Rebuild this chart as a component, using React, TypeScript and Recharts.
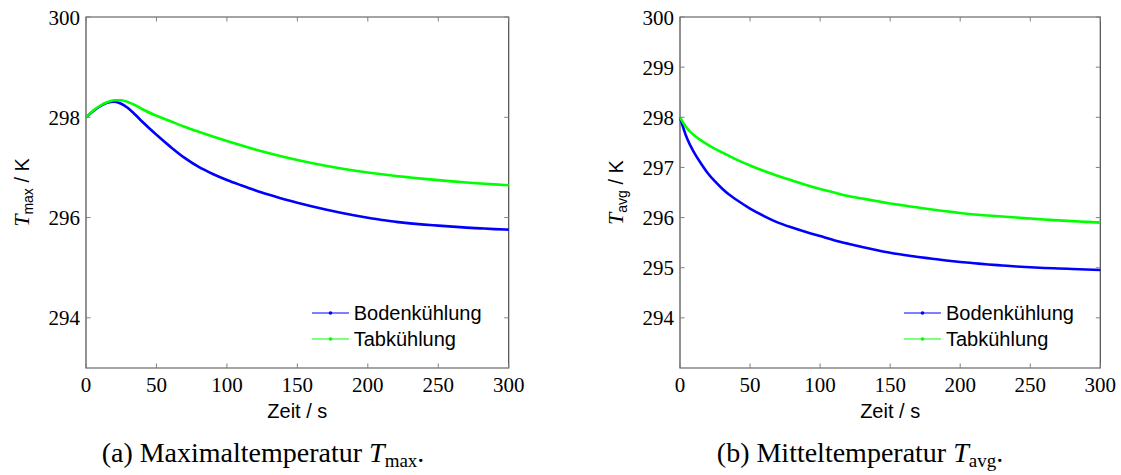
import React from 'react';
import { LineChart, Line, XAxis, YAxis, Legend, ReferenceArea } from 'recharts';

// simulation time in seconds
const TIME = [0, 5, 10, 15, 20, 25, 30, 35, 40, 50, 60, 70, 80, 90, 100, 110, 120, 130, 140, 150, 160, 170, 180, 190, 200, 210, 220, 230, 240, 250, 260, 270, 280, 290, 300];

// maximum temperature in K
const TMAX_BODEN = [298.0, 298.12, 298.22, 298.29, 298.31, 298.27, 298.18, 298.05, 297.91, 297.65, 297.41, 297.19, 297.01, 296.87, 296.75, 296.645, 296.545, 296.455, 296.37, 296.295, 296.225, 296.16, 296.1, 296.045, 295.995, 295.95, 295.915, 295.885, 295.86, 295.84, 295.82, 295.8, 295.785, 295.77, 295.76];
const TMAX_TAB = [298.0, 298.13, 298.23, 298.3, 298.34, 298.34, 298.3, 298.24, 298.16, 298.03, 297.92, 297.81, 297.71, 297.615, 297.525, 297.44, 297.36, 297.285, 297.215, 297.15, 297.09, 297.035, 296.985, 296.94, 296.9, 296.863, 296.83, 296.8, 296.772, 296.746, 296.722, 296.7, 296.68, 296.662, 296.646];

// mean temperature in K
const TAVG_BODEN = [298.0, 297.58, 297.3, 297.08, 296.88, 296.72, 296.58, 296.46, 296.36, 296.18, 296.03, 295.9, 295.8, 295.71, 295.63, 295.55, 295.48, 295.415, 295.355, 295.3, 295.255, 295.215, 295.18, 295.145, 295.115, 295.09, 295.065, 295.045, 295.025, 295.01, 294.995, 294.985, 294.975, 294.965, 294.955];
const TAVG_TAB = [298.0, 297.78, 297.64, 297.54, 297.45, 297.37, 297.3, 297.23, 297.16, 297.04, 296.93, 296.83, 296.74, 296.65, 296.57, 296.5, 296.43, 296.38, 296.33, 296.28, 296.24, 296.2, 296.16, 296.125, 296.09, 296.06, 296.04, 296.02, 296.0, 295.98, 295.96, 295.945, 295.93, 295.915, 295.9];

const X_TICKS = [0, 50, 100, 150, 200, 250, 300];
const TMAX_TICKS = [294, 296, 298, 300];
const TAVG_TICKS = [294, 295, 296, 297, 298, 299, 300];
const Y_MIN = 293;
const Y_MAX = 300;
const X_MAX = 300;

const SERIF = 'Liberation Serif';
const SANS = 'Liberation Sans';
const TICK_LEN = 4.5;
const TICK_COLOR = '#808080';
const FRAME_COLOR = '#4a4a4a';
const CHART_HEIGHT = 430;
const PLOT_TOP = 17;
const X_AXIS_HEIGHT = 62;
const BOTTOM_MARGIN = 8;
const LEFT_MARGIN = 6;

// tickSize is 0, so the tick anchor sits tickMargin away from the axis line;
// each tick also draws its mirrored partner on the opposite side of the frame
const BottomTick = (props: any) => {
  const { x, y, payload } = props;
  const axisY = y - BOTTOM_MARGIN;
  return (
    <g>
      <line x1={x} x2={x} y1={axisY} y2={axisY - TICK_LEN} stroke={TICK_COLOR} strokeWidth={1} />
      <line x1={x} x2={x} y1={PLOT_TOP} y2={PLOT_TOP + TICK_LEN} stroke={TICK_COLOR} strokeWidth={1} />
      <text x={x} y={y} dy="0.74em" textAnchor="middle" fontFamily={SERIF} fontSize={21} fill="#000">
        {payload.value}
      </text>
    </g>
  );
};

const makeLeftTick = (plotRight: number) => (props: any) => {
  const { x, y, payload } = props;
  const axisX = x + LEFT_MARGIN;
  return (
    <g>
      <line x1={axisX} x2={axisX + TICK_LEN} y1={y} y2={y} stroke={TICK_COLOR} strokeWidth={1} />
      <line x1={plotRight} x2={plotRight - TICK_LEN} y1={y} y2={y} stroke={TICK_COLOR} strokeWidth={1} />
      <text x={x} y={y} dy="0.36em" textAnchor="end" fontFamily={SERIF} fontSize={21} fill="#000">
        {payload.value}
      </text>
    </g>
  );
};

const renderXTitle = (props: any) => {
  const vb = props.viewBox;
  return (
    <text x={vb.x + vb.width / 2} y={vb.y + 50} textAnchor="middle" fontFamily={SANS} fontSize={20} fill="#000">
      Zeit / s
    </text>
  );
};

const makeYTitle = (sub: string) => (props: any) => {
  const vb = props.viewBox;
  const cx = vb.x + vb.width - 57.5;
  const cy = vb.y + vb.height / 2;
  return (
    <text x={cx} y={cy} transform={`rotate(-90 ${cx} ${cy})`} textAnchor="middle" fill="#000">
      <tspan fontFamily={SERIF} fontStyle="italic" fontSize={22}>T</tspan>
      <tspan fontFamily={SANS} fontSize={14} dy={4}>{sub}</tspan>
      <tspan fontFamily={SANS} fontSize={20} dy={-4}> / K</tspan>
    </text>
  );
};

const renderLegend = (props: any) => (
  <div>
    {props.payload.map((entry: any) => (
      <div key={entry.value} style={{ display: 'flex', alignItems: 'center', height: 26 }}>
        <svg width={37} height={10}>
          <line x1={0} x2={37} y1={5} y2={5} stroke={entry.color} strokeWidth={1.2} />
          <circle cx={18.5} cy={5} r={1.8} fill={entry.color} />
        </svg>
        <span style={{ marginLeft: 5, fontFamily: SANS, fontSize: 20, color: '#000', lineHeight: '26px' }}>
          {entry.value}
        </span>
      </div>
    ))}
  </div>
);

interface TempChartProps {
  boden: number[];
  tab: number[];
  yTicks: number[];
  sub: string;
  width: number;
  yAxisWidth: number;
  marginRight: number;
  legendLeft: number;
}

const TempChart: React.FC<TempChartProps> = ({ boden, tab, yTicks, sub, width, yAxisWidth, marginRight, legendLeft }) => {
  const data = TIME.map((t, i) => ({ t, boden: boden[i], tab: tab[i] }));
  const LeftTick = makeLeftTick(width - marginRight);
  return (
    <LineChart width={width} height={CHART_HEIGHT} data={data} margin={{ top: PLOT_TOP, right: marginRight, left: 0, bottom: 0 }}>
      <XAxis
        dataKey="t"
        type="number"
        domain={[0, X_MAX]}
        ticks={X_TICKS}
        interval={0}
        height={X_AXIS_HEIGHT}
        tickSize={0}
        tickMargin={BOTTOM_MARGIN}
        tick={<BottomTick />}
        axisLine={false}
        label={renderXTitle}
      />
      <YAxis
        type="number"
        domain={[Y_MIN, Y_MAX]}
        ticks={yTicks}
        width={yAxisWidth}
        tickSize={0}
        tickMargin={LEFT_MARGIN}
        tick={<LeftTick />}
        axisLine={false}
        label={makeYTitle(sub)}
      />
      <ReferenceArea x1={0} x2={X_MAX} y1={Y_MIN} y2={Y_MAX} fill="none" stroke={FRAME_COLOR} strokeWidth={1.2} />
      <Line type="monotone" dataKey="boden" name="Bodenkühlung" stroke="#0000ff" strokeWidth={2.6} dot={false} isAnimationActive={false} />
      <Line type="monotone" dataKey="tab" name="Tabkühlung" stroke="#00ff00" strokeWidth={2.6} dot={false} isAnimationActive={false} />
      <Legend
        layout="vertical"
        verticalAlign="middle"
        align="center"
        content={renderLegend}
        wrapperStyle={{ left: legendLeft, top: 300, width: 'auto' }}
      />
    </LineChart>
  );
};

export default function App() {
  return (
    <div style={{ position: 'absolute', left: 0, top: 0, width: 1121, height: 475, background: '#fff', overflow: 'hidden' }}>
      <div style={{ position: 'absolute', left: 0, top: 0 }}>
        <TempChart boden={TMAX_BODEN} tab={TMAX_TAB} yTicks={TMAX_TICKS} sub="max" width={540} yAxisWidth={86} marginRight={31.3} legendLeft={311.7} />
      </div>
      <div style={{ position: 'absolute', left: 595, top: 0 }}>
        <TempChart boden={TAVG_BODEN} tab={TAVG_TAB} yTicks={TAVG_TICKS} sub="avg" width={526} yAxisWidth={85} marginRight={20.7} legendLeft={309} />
      </div>
      <svg width={1121} height={475} style={{ position: 'absolute', left: 0, top: 0, pointerEvents: 'none' }}>
        <text x={263} y={462} textAnchor="middle" fontFamily={SERIF} fontSize={28} fill="#000">
          (a) Maximaltemperatur <tspan fontStyle="italic">T</tspan>
          <tspan fontSize={19} dy={5}>max</tspan>
          <tspan dy={-5}>.</tspan>
        </text>
        <text x={860} y={462} textAnchor="middle" fontFamily={SERIF} fontSize={28} fill="#000">
          (b) Mitteltemperatur <tspan fontStyle="italic">T</tspan>
          <tspan fontSize={19} dy={5}>avg</tspan>
          <tspan dy={-5}>.</tspan>
        </text>
      </svg>
    </div>
  );
}
